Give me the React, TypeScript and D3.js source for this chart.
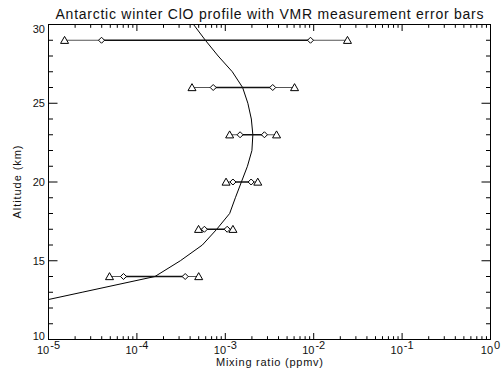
import React from "react";
import * as d3 from "d3";

const altitudes = [29, 26, 23, 20, 17, 14];
const lowerOuter = [1.52e-5, 4.2e-4, 1.12e-3, 1.02e-3, 4.98e-4, 4.9e-5];
const lowerInner = [3.98e-5, 7.3e-4, 1.47e-3, 1.22e-3, 5.8e-4, 7.05e-5];
const upperInner = [9.2e-3, 3.44e-3, 2.77e-3, 1.96e-3, 1.05e-3, 3.52e-4];
const upperOuter = [2.41e-2, 6.07e-3, 3.8e-3, 2.33e-3, 1.22e-3, 5.0e-4];

const profileAlt = [12, 13, 14, 15, 16, 17, 18, 19, 20, 21, 22, 23, 24, 25, 26, 27, 28, 29, 30, 31];
const profileVmr = [3.6e-6, 2.4e-5, 1.6e-4, 3.1e-4, 5.5e-4, 8.0e-4, 1.12e-3, 1.3e-3, 1.52e-3, 1.78e-3, 2.0e-3, 2.05e-3, 1.97e-3, 1.8e-3, 1.57e-3, 1.2e-3, 8.3e-4, 5.95e-4, 4.37e-4, 3.3e-4];

const xDecades = [-5, -4, -3, -2, -1, 0];
const yMajor = [10, 15, 20, 25, 30];

const title = "Antarctic winter ClO profile with VMR measurement error bars";
const xTitle = "Mixing ratio (ppmv)";
const yTitle = "Altitude (km)";

const W = 501, H = 373;
const L = 48.5, R = 490.5, T = 24.5, B = 339.5;
const FONT = "'Liberation Sans', Arial, Helvetica, sans-serif";

export default function App() {
  const x = d3.scaleLog().domain([1e-5, 1]).range([L, R]);
  const y = d3.scaleLinear().domain([10, 30]).range([B, T]);

  const line = d3.line<number>().x((_, i) => x(profileVmr[i])).y((a) => y(a));
  const profilePath = line(profileAlt) || "";

  const yMinor = d3.range(10, 31, 1).filter((v) => v % 5 !== 0);
  const xMinor: number[] = [];
  for (let e = -5; e < 0; e++) for (let m = 2; m <= 9; m++) xMinor.push(m * Math.pow(10, e));

  const yMajLen = 9, yMinLen = 4.5, xMajLen = 6.5, xMinLen = 3.3;

  const tri = (cx: number, cy: number) => {
    const w = 4, h = 7;
    return `M${cx},${cy - h * 0.55}L${cx + w},${cy + h * 0.45}L${cx - w},${cy + h * 0.45}Z`;
  };
  const dia = (cx: number, cy: number) => {
    const r = 3;
    return `M${cx},${cy - r}L${cx + r},${cy}L${cx},${cy + r}L${cx - r},${cy}Z`;
  };

  return (
    <svg width={W} height={H} style={{ position: "absolute", left: 0, top: 0, background: "#fff" }} fontFamily={FONT}>
      <rect x={0} y={0} width={W} height={H} fill="#fff" />
      <defs>
        <clipPath id="plot">
          <rect x={L} y={T} width={R - L} height={B - T} />
        </clipPath>
      </defs>
      <text x={(L + R) / 2} y={19} textAnchor="middle" fontSize={14} fill="#111" textLength={428} lengthAdjust="spacing">{title}</text>

      <rect x={L} y={T} width={R - L} height={B - T} fill="none" stroke="#000" strokeWidth={1} />

      {yMajor.map((v) => (
        <g key={"ym" + v}>
          <line x1={L} x2={L + yMajLen} y1={y(v)} y2={y(v)} stroke="#000" />
          <line x1={R} x2={R - yMajLen} y1={y(v)} y2={y(v)} stroke="#000" />
          <text x={L - 3.5} y={Math.min(Math.max(y(v) + 4, T + 8.5), B)} textAnchor="end" fontSize={11} fill="#111">{v}</text>
        </g>
      ))}
      {yMinor.map((v) => (
        <g key={"yn" + v}>
          <line x1={L} x2={L + yMinLen} y1={y(v)} y2={y(v)} stroke="#000" />
          <line x1={R} x2={R - yMinLen} y1={y(v)} y2={y(v)} stroke="#000" />
        </g>
      ))}

      {xDecades.map((e) => {
        const px = x(Math.pow(10, e));
        return (
          <g key={"xm" + e}>
            <line x1={px} x2={px} y1={B} y2={B - xMajLen} stroke="#000" />
            <line x1={px} x2={px} y1={T} y2={T + xMajLen} stroke="#000" />
            <text x={px} y={354} textAnchor="middle" fontSize={11} fill="#111">
              10<tspan dx={1} dy={-5} fontSize={11}>{e === 0 ? "0" : "-" + Math.abs(e)}</tspan>
            </text>
          </g>
        );
      })}
      {xMinor.map((v, i) => {
        const px = x(v);
        return (
          <g key={"xn" + i}>
            <line x1={px} x2={px} y1={B} y2={B - xMinLen} stroke="#000" />
            <line x1={px} x2={px} y1={T} y2={T + xMinLen} stroke="#000" />
          </g>
        );
      })}

      <text x={(L + R) / 2} y={366} textAnchor="middle" fontSize={11} fill="#111" textLength={107} lengthAdjust="spacing">{xTitle}</text>
      <text transform={`translate(20.5,${(T + B) / 2}) rotate(-90)`} textAnchor="middle" fontSize={11} fill="#111" textLength={73} lengthAdjust="spacing">{yTitle}</text>

      <g clipPath="url(#plot)">
        <path d={profilePath} fill="none" stroke="#000" strokeWidth={1} />
        {altitudes.map((a, i) => {
          const cy = y(a);
          return (
            <g key={"bar" + a}>
              <line x1={x(lowerOuter[i])} x2={x(lowerInner[i])} y1={cy} y2={cy} stroke="#555" strokeWidth={1.2} />
              <line x1={x(upperInner[i])} x2={x(upperOuter[i])} y1={cy} y2={cy} stroke="#555" strokeWidth={1.2} />
              <line x1={x(lowerInner[i])} x2={x(upperInner[i])} y1={cy} y2={cy} stroke="#111" strokeWidth={1.6} />
              <path d={tri(x(lowerOuter[i]), cy)} fill="#fff" stroke="#000" strokeWidth={1} />
              <path d={tri(x(upperOuter[i]), cy)} fill="#fff" stroke="#000" strokeWidth={1} />
              <path d={dia(x(lowerInner[i]), cy)} fill="#fff" stroke="#000" strokeWidth={1} />
              <path d={dia(x(upperInner[i]), cy)} fill="#fff" stroke="#000" strokeWidth={1} />
            </g>
          );
        })}
      </g>
    </svg>
  );
}
